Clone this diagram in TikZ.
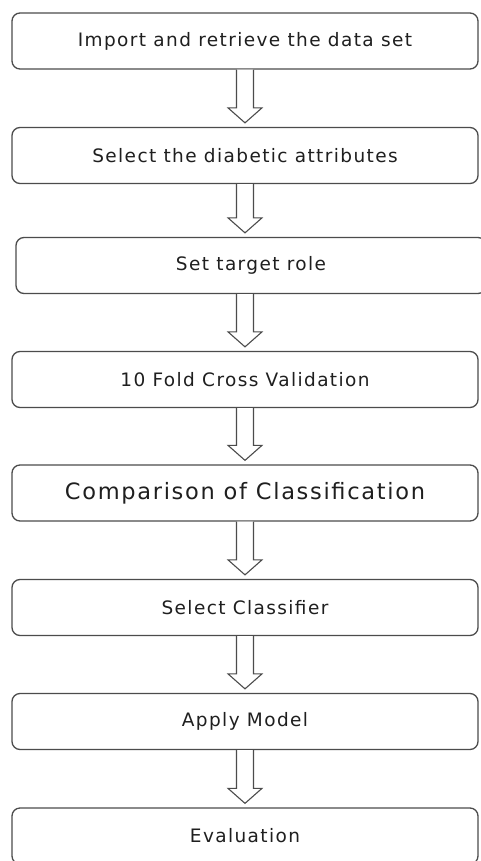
\documentclass[tikz,border=0pt]{standalone}
\usepackage{fontspec}
\setmainfont{DejaVu Sans}
\newfontfamily\boxfont[LetterSpace=7.5]{DejaVu Sans}
\usetikzlibrary{calc}
\definecolor{edge}{gray}{0.3}
\definecolor{txt}{gray}{0.12}
\tikzset{
  stepbox/.style={draw=edge, line width=1.3pt, rounded corners=8pt, minimum width=466pt,
    minimum height=56pt, inner sep=0pt, text=txt, font=\boxfont\fontsize{18.5}{22}\selectfont},
  bigtext/.style={font=\boxfont\fontsize{22.5}{26}\selectfont},
  blockarr/.style={draw=edge, line width=1.1pt, fill=white}
}
\newcommand\flowarrow[2]{%
  \draw[blockarr] ($(#1.south -| axis)+(-8.5,0)$) -- ($(#2.north -| axis)+(-8.5,-19)$)
    -- ($(#2.north -| axis)+(-17,-19)$) -- ($(#2.north -| axis)+(0,-4)$)
    -- ($(#2.north -| axis)+(17,-19)$) -- ($(#2.north -| axis)+(8.5,-19)$)
    -- ($(#1.south -| axis)+(8.5,0)$);}
\begin{document}
\begin{tikzpicture}[x=1pt,y=-1pt]
\useasboundingbox[fill=white] (0,0) rectangle (481,861);
\coordinate (axis) at (245,0);
\node[stepbox] (n1) at (245,41) {Import and retrieve the data set};
\node[stepbox] (n2) at (245,155.5) {Select the diabetic attributes};
\node[stepbox, minimum width=470pt] (n3) at (251,265.5) {Set target role};
\node[stepbox] (n4) at (245,379.5) {10 Fold Cross Validation};
\node[stepbox, bigtext] (n5) at (245,493) {Comparison of Classification};
\node[stepbox] (n6) at (245,607.5) {Select Classifier};
\node[stepbox] (n7) at (245,721.5) {Apply Model};
\node[stepbox] (n8) at (245,836) {Evaluation};
\flowarrow{n1}{n2}
\flowarrow{n2}{n3}
\flowarrow{n3}{n4}
\flowarrow{n4}{n5}
\flowarrow{n5}{n6}
\flowarrow{n6}{n7}
\flowarrow{n7}{n8}
\end{tikzpicture}
\end{document}
